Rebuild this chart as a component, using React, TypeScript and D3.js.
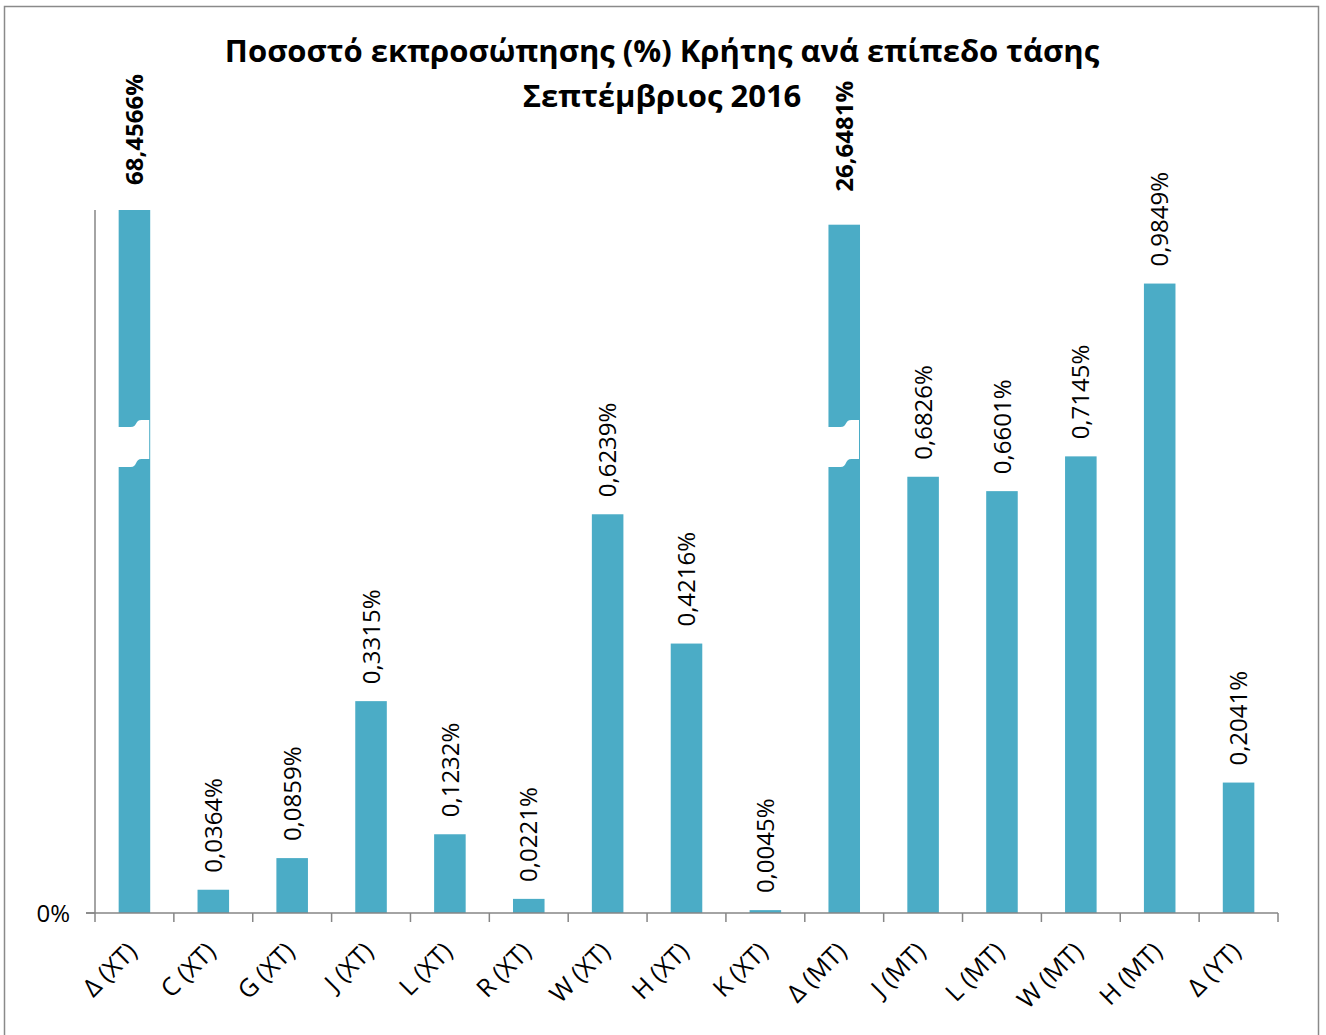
import React from "react";
import * as d3 from "d3";

// ---- data ----
const categories = [
  "Δ (XT)", "C (XT)", "G (XT)", "J (XT)", "L (XT)", "R (XT)", "W (XT)", "H (XT)", "K (XT)",
  "Δ (MT)", "J (MT)", "L (MT)", "W (MT)", "H (MT)", "Δ (YT)",
];
const shares = [
  68.4566, 0.0364, 0.0859, 0.3315, 0.1232, 0.0221, 0.6239, 0.4216, 0.0045,
  26.6481, 0.6826, 0.6601, 0.7145, 0.9849, 0.2041,
];
// bars that exceed the axis and are drawn broken, with the height shown on the axis
const brokenCategories = ["Δ (XT)", "Δ (MT)"];
const brokenShownValues = [1.1, 1.077];
const yDomain = [0, 1.1];
const yTickValues = [0];
const titleLines = ["Ποσοστό εκπροσώπησης (%) Κρήτης ανά επίπεδο τάσης", "Σεπτέμβριος 2016"];

// ---- layout / style ----
const W = 1326;
const H = 1035;
const plot = { left: 95, right: 1278, top: 210, bottom: 913 };
const BAR = "#4BACC6";
const AXIS = "#868686";
const FONT = "'Open Sans', 'DejaVu Sans', sans-serif";
const breakCenterValue = 0.734;
const brokenLabelGap = [25, 33];

const fmt = (v: number) => v.toFixed(4).replace(".", ",") + "%";

export default function App() {
  const x = d3.scaleBand<string>().domain(categories).range([plot.left, plot.right]).paddingInner(0.6).paddingOuter(0.3);
  const y = d3.scaleLinear().domain(yDomain).range([plot.bottom, plot.top]);
  const step = x.step();
  const bw = x.bandwidth();

  const shown = (c: string, v: number) => {
    const i = brokenCategories.indexOf(c);
    return i >= 0 ? brokenShownValues[i] : v;
  };

  return (
    <svg width={W} height={H} style={{ position: "absolute", left: 0, top: 0, background: "#fff" }} fontFamily={FONT}>
      <rect x={0} y={0} width={W} height={H} fill="#fff" />
      <rect x={4.5} y={6.5} width={1314} height={1050} fill="none" stroke="#8a8a8a" strokeWidth={1.5} />

      {titleLines.map((t, i) => (
        <text key={i} x={662} y={62 + i * 45} textAnchor="middle" fontSize={31} fontWeight={700} fill="#000">
          {t}
        </text>
      ))}

      {/* bars */}
      {categories.map((c, i) => {
        const x0 = x(c)!;
        const v = shown(c, shares[i]);
        return <rect key={c} x={x0} y={y(v)} width={bw} height={y(0) - y(v)} fill={BAR} />;
      })}

      {/* break marks */}
      {brokenCategories.map((c) => {
        const x0 = x(c)!;
        const x1 = x0 + bw;
        const yc = y(breakCenterValue);
        const d = [
          `M${x0 - 1},${yc - 17}`,
          `L${x0 + 12},${yc - 17}`,
          `C${x0 + 19},${yc - 17} ${x0 + 16},${yc - 24} ${x0 + 23},${yc - 24}`,
          `L${x1 - 1},${yc - 24}`,
          `L${x1 - 1},${yc + 15}`,
          `L${x0 + 23},${yc + 15}`,
          `C${x0 + 16},${yc + 15} ${x0 + 19},${yc + 23} ${x0 + 12},${yc + 23}`,
          `L${x0 - 1},${yc + 23}`,
          "Z",
        ].join(" ");
        return <path key={"b" + c} d={d} fill="#fff" />;
      })}

      {/* axes */}
      <line x1={plot.left} x2={plot.left} y1={plot.top} y2={plot.bottom} stroke={AXIS} strokeWidth={1.5} />
      {yTickValues.map((t) => (
        <g key={t}>
          <line x1={plot.left - 9} x2={plot.left} y1={y(t)} y2={y(t)} stroke={AXIS} strokeWidth={1.5} />
          <text x={70} y={y(t)} dy="0.36em" textAnchor="end" fontSize={24} fill="#000">
            {d3.format(".0%")(t)}
          </text>
        </g>
      ))}
      <line x1={plot.left - 9} x2={plot.right} y1={plot.bottom} y2={plot.bottom} stroke={AXIS} strokeWidth={1.5} />
      {d3.range(categories.length + 1).map((i) => (
        <line key={"t" + i} x1={plot.left + i * step} x2={plot.left + i * step} y1={plot.bottom} y2={plot.bottom + 9} stroke={AXIS} strokeWidth={1.5} />
      ))}

      {/* category labels */}
      {categories.map((c) => {
        const cx = x(c)! + bw / 2;
        return (
          <text key={"c" + c} transform={`translate(${cx + 4},${plot.bottom + 40}) rotate(-45)`} textAnchor="end" fontSize={25} fill="#000">
            {c}
          </text>
        );
      })}

      {/* value labels */}
      {categories.map((c, i) => {
        const cx = x(c)! + bw / 2;
        const bi = brokenCategories.indexOf(c);
        const v = shown(c, shares[i]);
        const gap = bi >= 0 ? brokenLabelGap[bi] : 17;
        return (
          <text key={"v" + c} transform={`translate(${cx},${y(v) - gap}) rotate(-90)`} dy="0.36em" fontSize={24} fontWeight={bi >= 0 ? 700 : 400} fill="#000">
            {fmt(shares[i])}
          </text>
        );
      })}
    </svg>
  );
}
